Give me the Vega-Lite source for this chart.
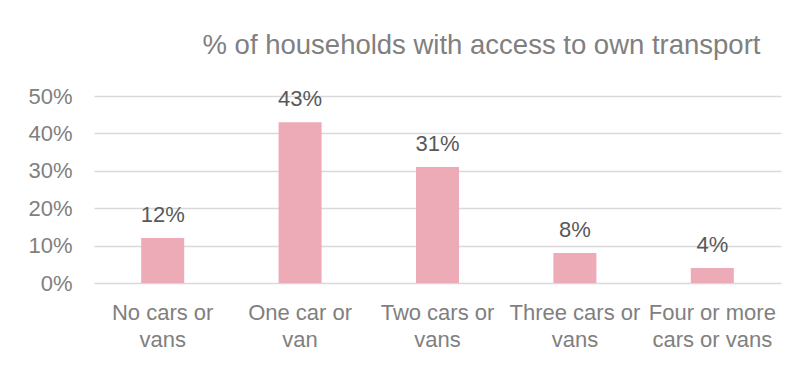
{
  "$schema": "https://vega.github.io/schema/vega-lite/v6.json",
  "width": 687,
  "height": 187,
  "autosize": {"type": "none"},
  "padding": {"left": 94, "top": 96, "right": 17, "bottom": 82},
  "background": "white",
  "title": {
    "text": "% of households with access to own transport",
    "font": "Liberation Sans",
    "fontSize": 27.5,
    "fontWeight": "normal",
    "color": "#808080",
    "anchor": "middle",
    "frame": "group",
    "baseline": "alphabetic",
    "offset": 4,
    "dx": 44
  },
  "data": {
    "values": [
      {"category": "No cars or\nvans", "share": 0.12},
      {"category": "One car or\nvan", "share": 0.43},
      {"category": "Two cars or\nvans", "share": 0.31},
      {"category": "Three cars or\nvans", "share": 0.08},
      {"category": "Four or more\ncars or vans", "share": 0.04}
    ]
  },
  "encoding": {
    "x": {
      "field": "category",
      "type": "nominal",
      "sort": null,
      "scale": {"paddingInner": 0.687, "paddingOuter": 0.3435},
      "axis": {
        "title": null,
        "labelAngle": 0,
        "labelExpr": "split(datum.label, '\\n')",
        "labelFont": "Liberation Sans",
        "labelFontSize": 22,
        "labelColor": "#808080",
        "labelLineHeight": 27,
        "labelPadding": 19,
        "labelLimit": 200,
        "ticks": false,
        "domain": false
      }
    },
    "y": {
      "field": "share",
      "type": "quantitative",
      "scale": {"domain": [0, 0.5]},
      "axis": {
        "title": null,
        "format": ".0%",
        "values": [0, 0.1, 0.2, 0.3, 0.4, 0.5],
        "labelFont": "Liberation Sans",
        "labelFontSize": 22,
        "labelColor": "#808080",
        "labelPadding": 22,
        "ticks": false,
        "domain": false,
        "grid": true,
        "gridColor": "#d9d9d9",
        "gridWidth": 1.5
      }
    }
  },
  "layer": [
    {"mark": {"type": "bar", "color": "#EDAAB7"}},
    {
      "mark": {
        "type": "text",
        "baseline": "alphabetic",
        "dy": -16,
        "font": "Liberation Sans",
        "fontSize": 22,
        "color": "#595959"
      },
      "encoding": {
        "text": {"field": "share", "type": "quantitative", "format": ".0%"}
      }
    }
  ],
  "config": {"view": {"stroke": null}}
}
